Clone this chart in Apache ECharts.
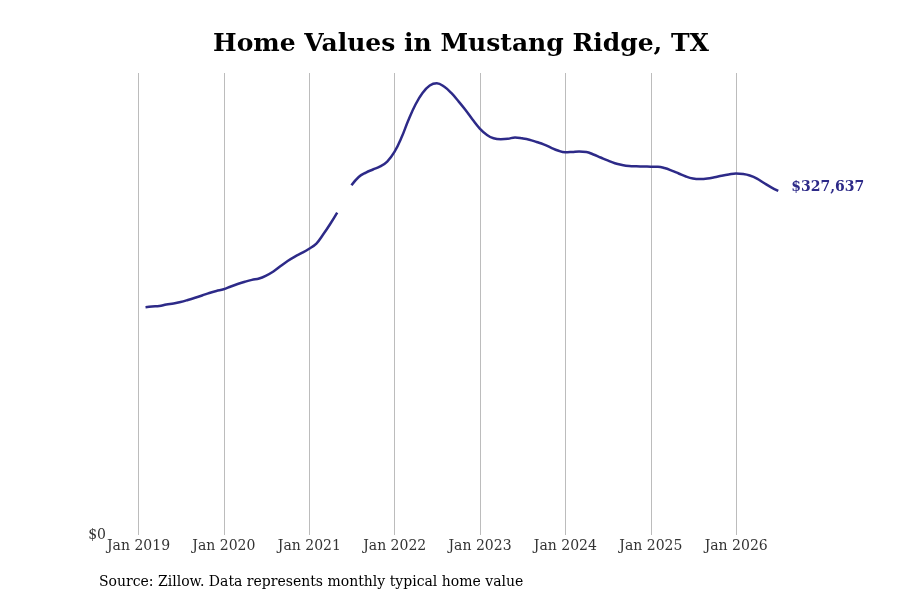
<!DOCTYPE html>
<html>
<head>
<meta charset="utf-8">
<script src="https://cdn.jsdelivr.net/npm/echarts@6/dist/echarts.min.js"></script>
<style>
html,body{margin:0;padding:0;background:#fff;}
#chart{width:900px;height:600px;}
</style>
</head>
<body>
<div id="chart"></div>
<script>
// typical home value, monthly (month end), starting Jan 2019
var startYear = 2019;
var startMonth = 0;
var homeValues = [
	216900, 217600, 218100, 219500, 220500, 221900, 223800, 225900, 228100, 230500, 232400, 234000,
	236700, 239000, 241200, 243000, 244300, 247100, 251000, 256200, 261000, 265200, 268600, 272600,
	277600, 285900, 296200, 307100, null, 333000, 341000, 345200, 348100, 351000, 355700, 364800,
	379000, 394800, 410000, 421000, 428100, 430200, 427100, 421000, 413300, 404800, 395700, 387100,
	381000, 377800, 376900, 377300, 378600, 377800, 376500, 374300, 372100, 369000, 366200, 364500,
	364800, 365200, 364800, 362400, 359500, 356700, 354000, 352400, 351400, 351100, 351000, 350800,
	350700, 349500, 347100, 344300, 341400, 339500, 339000, 339500, 340700, 342100, 343300, 344300,
	343800, 342400, 339500, 335200, 331000, 327637
];
var lastLabel = '$327,637';
var titleText = 'Home Values in Mustang Ridge, TX';
var sourceText = 'Source: Zillow. Data represents monthly typical home value';

var seriesData = [];
for (var i = 0; i < homeValues.length; i++) {
	// last day of each month
	var d = new Date(startYear, startMonth + i + 1, 0);
	seriesData.push([d.getTime(), homeValues[i]]);
}

var YEAR = 365 * 24 * 3600 * 1000;
var lineColor = '#2d2a88';
var serif = 'DejaVu Serif';

var myChart = echarts.init(document.getElementById('chart'));
var option = {
	backgroundColor: '#fff',
	animation: false,
	title: {
		text: titleText,
		left: 456,
		top: 27,
		textAlign: 'center',
		textStyle: { fontFamily: serif, fontSize: 25, fontWeight: 'bold', color: '#000' }
	},
	graphic: [{
		type: 'text',
		left: 99,
		top: 575,
		style: { text: sourceText, fontFamily: serif, fontSize: 14, fill: '#000' }
	}],
	grid: { left: 110, right: 100, top: 73, bottom: 65 },
	xAxis: {
		type: 'time',
		min: new Date(2018, 8, 1).getTime(),
		max: new Date(2026, 9, 1).getTime(),
		minInterval: YEAR,
		maxInterval: YEAR,
		axisLine: { show: false },
		axisTick: { show: false },
		axisLabel: {
			formatter: '{MMM} {yyyy}',
			fontFamily: serif,
			fontSize: 14,
			color: '#333',
			margin: 4,
			showMinLabel: false,
			showMaxLabel: false
		},
		splitLine: {
			show: true,
			showMinLine: false,
			showMaxLine: false,
			lineStyle: { color: '#bcbcbc', width: 1 }
		}
	},
	yAxis: {
		type: 'value',
		min: 0,
		max: 440000,
		interval: 440000,
		axisLine: { show: false },
		axisTick: { show: false },
		splitLine: { show: false },
		axisLabel: {
			showMaxLabel: false,
			fontFamily: serif,
			fontSize: 14,
			color: '#333',
			margin: 4,
			formatter: function (v) { return '$' + v; }
		}
	},
	series: [{
		type: 'line',
		data: seriesData,
		smooth: 0.4,
		connectNulls: false,
		showSymbol: false,
		lineStyle: { color: lineColor, width: 2.5 },
		endLabel: {
			show: true,
			formatter: lastLabel,
			distance: 13,
			offset: [0, -4],
			fontFamily: serif,
			fontSize: 14,
			fontWeight: 'bold',
			color: lineColor
		}
	}]
};
myChart.setOption(option);
</script>
</body>
</html>
